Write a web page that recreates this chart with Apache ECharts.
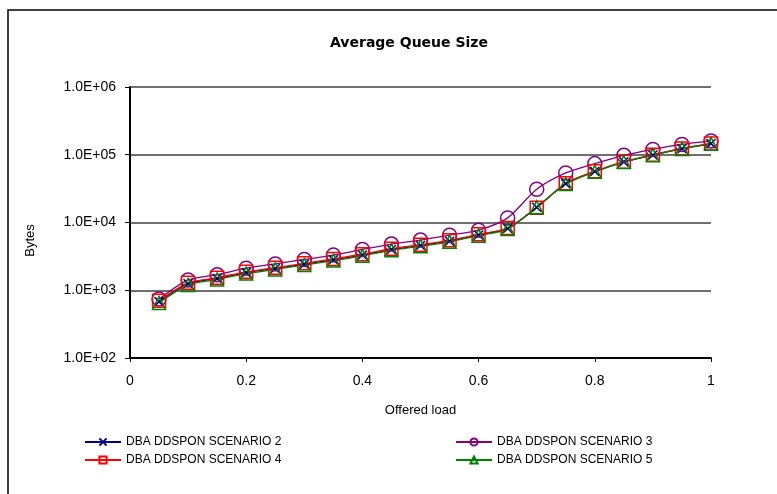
<!DOCTYPE html>
<html>
<head>
<meta charset="utf-8">
<script src="https://cdn.jsdelivr.net/npm/echarts@6/dist/echarts.min.js"></script>
<style>html,body{margin:0;padding:0;background:#fff;}#c{width:777px;height:494px;}</style>
</head>
<body>
<div id="c"></div>
<script>
const offeredLoad = [0.05,0.1,0.15,0.2,0.25,0.3,0.35,0.4,0.45,0.5,0.55,0.6,0.65,0.7,0.75,0.8,0.85,0.9,0.95,1.0];
const scenario2 = [680,1250,1490,1820,2100,2430,2820,3310,3990,4580,5300,6550,8150,16800,37500,56500,78500,99000,123000,146000];
const scenario3 = [740,1420,1700,2120,2450,2850,3300,4000,4800,5500,6500,7700,11700,31000,54000,74000,98000,120000,142000,160000];
const scenario4 = [700,1285,1530,1870,2150,2500,2900,3400,4100,4700,5450,6700,8300,16500,38000,57000,79000,100000,124000,147000];
const scenario5 = [650,1200,1440,1760,2030,2360,2740,3220,3880,4460,5180,6400,8000,16800,37000,56000,78000,98500,122000,145000];
const seriesNames = ['DBA DDSPON SCENARIO 2','DBA DDSPON SCENARIO 3','DBA DDSPON SCENARIO 4','DBA DDSPON SCENARIO 5'];
const xTicks = [0,0.2,0.4,0.6,0.8,1];

const pair = arr => offeredLoad.map((x,i)=>[x,arr[i]]);
const chart = echarts.init(document.getElementById('c'), null, {renderer:'canvas'});
const font = 'Liberation Sans, Arial, sans-serif';

function mk(name, data, color, symbol, size){
  return {
    name, type:'line', data: pair(data), smooth:0.25,
    symbol, symbolSize:size,
    lineStyle:{color, width:1.3},
    itemStyle:{color:'rgba(0,0,0,0)', borderColor:color, borderWidth:1.5},
    emphasis:{disabled:true}, animation:false
  };
}

const crossPath = 'path://M0,0L10,10M10,0L0,10';
const series = [
  mk(seriesNames[0], scenario2, '#000080', crossPath, 9),
  mk(seriesNames[1], scenario3, '#800080', 'circle', 14),
  mk(seriesNames[2], scenario4, '#ff0000', 'rect', 13),
  mk(seriesNames[3], scenario5, '#008000', 'triangle', 13)
];

const legendText = {fontFamily:font, fontSize:12, color:'#000'};
chart.setOption({
  animation:false,
  backgroundColor:'#fff',
  title:{text:'Average Queue Size', left:404, top:31, textAlign:'center',
    textStyle:{fontFamily:'DejaVu Sans, sans-serif', fontWeight:'bold', fontSize:14, color:'#000'}},
  grid:{left:130, right:66, top:87, bottom:136},
  legend:[
    {data:[seriesNames[0], seriesNames[2]], orient:'vertical', left:79, top:431, itemWidth:36, itemHeight:9, itemGap:6, textStyle:legendText},
    {data:[seriesNames[1], seriesNames[3]], orient:'vertical', left:450, top:431, itemWidth:36, itemHeight:9, itemGap:6, textStyle:legendText}
  ],
  xAxis:{type:'value', min:0, max:1, interval:0.2,
    name:'Offered load', nameLocation:'middle', nameGap:46,
    nameTextStyle:{fontFamily:font, fontSize:13, color:'#000'},
    axisLine:{lineStyle:{color:'#000', width:2}},
    axisTick:{show:true, length:4, lineStyle:{color:'#000'}},
    axisLabel:{fontFamily:font, fontSize:14, color:'#000', margin:16,
      formatter: v => { const t = xTicks.find(t=>Math.abs(t-v)<1e-9); return t===undefined ? '' : String(t); }},
    splitLine:{show:false}},
  yAxis:{type:'log', logBase:10, min:100, max:1000000,
    name:'Bytes', nameLocation:'middle', nameGap:93, nameRotate:90,
    nameTextStyle:{fontFamily:font, fontSize:13, color:'#000', padding:[0,36,0,0]},
    axisLine:{show:true, lineStyle:{color:'#000', width:2}},
    axisTick:{show:true, length:5, lineStyle:{color:'#000'}},
    axisLabel:{fontFamily:font, fontSize:14, color:'#000', margin:14,
      formatter: v => { const e = Math.round(Math.log10(v)); return '1.0E+' + (e<10?'0':'') + e; }},
    splitLine:{show:true, lineStyle:{color:'#6f6f6f', width:2}}},
  graphic:[{type:'rect', shape:{x:8, y:10, width:820, height:520}, style:{fill:'none', stroke:'#000', lineWidth:1.5}, silent:true, z:-1}],
  series
});
</script>
</body>
</html>
